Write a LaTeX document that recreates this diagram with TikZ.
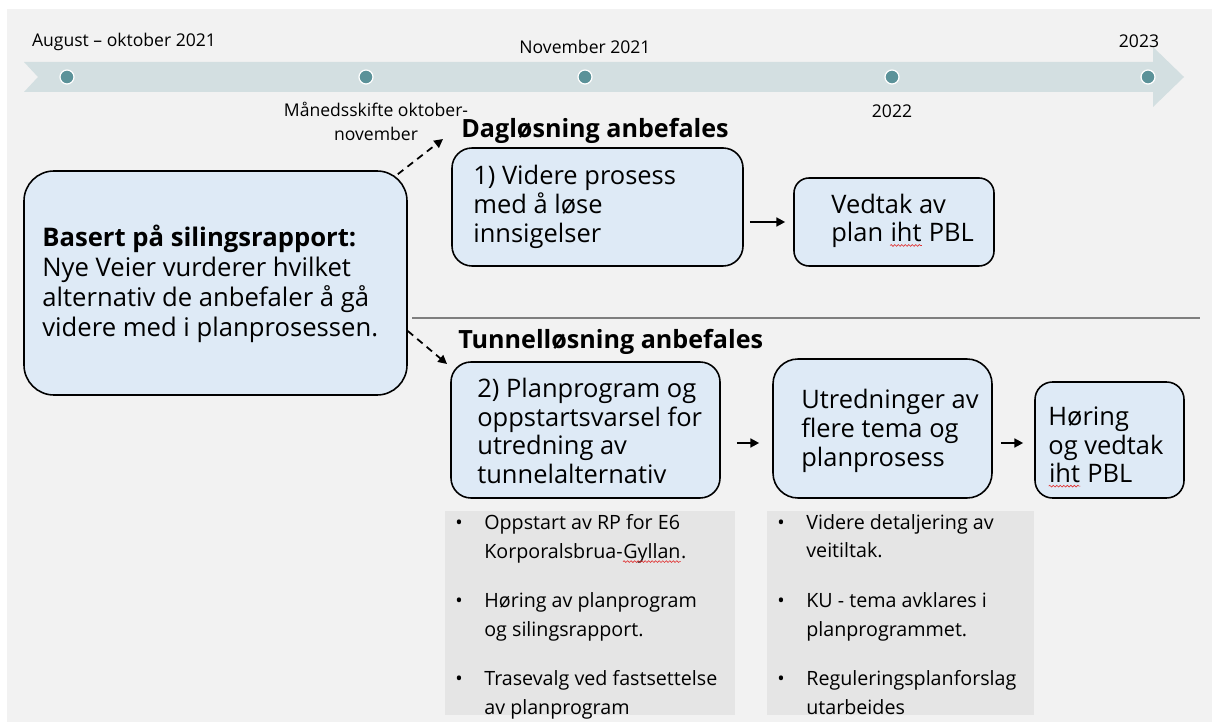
\documentclass[tikz,border=0pt]{standalone}
\usepackage{fontspec}
\setmainfont{Open Sans}
\usepackage{tikz}
\usetikzlibrary{arrows.meta,fit,positioning,decorations.pathmorphing}
\definecolor{bggray}{HTML}{F2F2F2}
\definecolor{bandgray}{HTML}{D3DFE1}
\definecolor{dotteal}{HTML}{5B9299}
\definecolor{boxblue}{HTML}{DEEAF6}
\definecolor{panelgray}{HTML}{E5E5E5}
\definecolor{linegray}{HTML}{7F7F7F}
\definecolor{spellred}{HTML}{E03030}
\tikzset{
    % boks for steg i prosessen
    stepbox/.style={
        draw=black,
        line width=0.9pt,
        fill=boxblue,
        rounded corners=0.4cm,
        inner sep=0pt
    },
    boxtext/.style={
        inner sep=0pt,
        anchor=west,
        align=left,
        font=\fontsize{14.5}{16.3}\selectfont
    },
    headtext/.style={
        inner sep=0pt,
        anchor=west,
        font=\fontsize{14.3}{16}\selectfont\bfseries
    },
    datelabel/.style={
        inner sep=0pt,
        font=\fontsize{10}{13.7}\selectfont
    },
    tldot/.style={
        circle,
        draw=white,
        line width=0.7pt,
        fill=dotteal,
        minimum size=0.28cm,
        inner sep=0pt
    },
    panel/.style={
        fill=panelgray,
        inner sep=0pt
    },
    bullettext/.style={
        inner sep=0pt,
        anchor=north west,
        align=left,
        font=\fontsize{11.2}{16.3}\selectfont
    },
    % piler
    steparrow/.style={
        line width=1.3pt,
        black,
        -{Triangle[length=5pt, width=5pt]}
    },
    dasharrow/.style={
        line width=1pt,
        black,
        dashed,
        dash pattern=on 4pt off 3pt,
        -{Triangle[length=5pt, width=5pt]}
    }
}
\newcommand{\bul}{\makebox[0.58cm][l]{•}}
\newcommand{\ind}{\hspace*{0.58cm}}
% rød bølgestrek under ord
\newcommand{\spell}[1]{\tikz[baseline=(w.base)]{\node[inner sep=0pt] (w) {#1};
  \draw[spellred, line width=0.35pt, decorate,
        decoration={snake, amplitude=0.5pt, segment length=2pt}]
        ([yshift=-2pt]w.base west) -- ([yshift=-2pt]w.base east);}}
\begin{document}
\begin{tikzpicture}[x=0.02cm, y=-0.02cm]
	\useasboundingbox (0,0) rectangle (1212,722);
	\fill[bggray] (7,9) rectangle (1212,722);
	
	% tidslinje
	\fill[bandgray] (24,62) -- (1153,62) -- (1153,47) -- (1184,77)
	  -- (1153,107) -- (1153,92) -- (24,92) -- (38,77) -- cycle;
	\foreach \x/\n in {67/d1, 366/d2, 585/d3, 892/d4, 1148/d5}
	  \node[tldot] (\n) at (\x,77) {};
	
	% datoer
	\node[datelabel] (l1) at (124,42) {August – oktober 2021};
	\node[datelabel, align=center] (l2) at (376,121) {Månedsskifte oktober-\\november};
	\node[datelabel] (l3) at (585,47) {November 2021};
	\node[datelabel] (l4) at (892,111) {2022};
	\node[datelabel] (l5) at (1139,41) {2023};
	
	% skillelinje
	\draw[linegray, line width=1.2pt] (412,318) -- (1200,318);
	
	% hovedboks
	\node[stepbox, rounded corners=0.6cm, fit={(24,171) (407,395)}] (mainbox) {};
	\node[boxtext, font=\fontsize{14.6}{17}\selectfont] (maintext) at (42,284)
	  {\textbf{Basert på silingsrapport:}\\Nye Veier vurderer hvilket\\
	   alternativ de anbefaler å gå\\videre med i planprosessen.};
	
	% dagløsning
	\node[headtext] (daghead) at (461,131) {Dagløsning anbefales};
	\node[stepbox, fit={(452,148) (743,266)}] (dagbox) {};
	\node[boxtext] (dagtext) at (473,207) {1) Videre prosess\\med å løse\\innsigelser};
	\node[stepbox, rounded corners=0.3cm, fit={(794,178) (994,266)}] (vedtak) {};
	\node[boxtext] (vedtaktext) at (831,221) {Vedtak av\\plan \spell{iht} PBL};
	
	% tunnelløsning
	\node[headtext] (tunhead) at (458,342) {Tunnelløsning anbefales};
	\node[stepbox, fit={(451,362) (720,498)}] (tunbox) {};
	\node[boxtext] (tuntext) at (477,431)
	  {2) Planprogram og\\oppstartsvarsel for\\utredning av\\tunnelalternativ};
	\node[stepbox, rounded corners=0.5cm, fit={(773,359) (992,498)}] (utred) {};
	\node[boxtext] (utredtext) at (801,431) {Utredninger av\\flere tema og\\planprosess};
	\node[stepbox, rounded corners=0.35cm, fit={(1035,382) (1184,498)}] (horing) {};
	\node[boxtext] (horingtext) at (1048,447) {Høring\\og vedtak\\\spell{iht} PBL};
	
	% stiplede piler
	\coordinate (dagtip) at (443,139);
	\coordinate (tuntip) at (447,364);
	\draw[dasharrow] ([shift={(-10,4)}]mainbox.north east) -- (dagtip);
	\draw[dasharrow] ([yshift=-0.96cm]mainbox.east) -- (tuntip);
	
	% heltrukne piler
	\draw[steparrow, shorten <=0.12cm, shorten >=0.16cm] (dagbox.east |- vedtak.west) -- (vedtak.west);
	\draw[steparrow] ([shift={(16,13)}]tunbox.east) coordinate (a1) -- ([xshift=-0.26cm]utred.west |- a1);
	\draw[steparrow] ([shift={(8,14.5)}]utred.east) coordinate (a2) -- ([xshift=-0.22cm]horing.west |- a2);
	
	% punktlister
	\node[panel, fit={(445,511) (735,715)}] (panelA) {};
	\node[bullettext] (listA) at (455,514)
	  {\bul Oppstart av RP for E6\\\ind Korporalsbrua-\spell{Gyllan}.\\[0.42cm]
	   \bul Høring av planprogram\\\ind og silingsrapport.\\[0.42cm]
	   \bul Trasevalg ved fastsettelse\\\ind av planprogram};
	\node[panel, fit={(767,511) (1034,715)}] (panelB) {};
	\node[bullettext] (listB) at (777,514)
	  {\bul Videre detaljering av\\\ind veitiltak.\\[0.42cm]
	   \bul KU - tema avklares i\\\ind planprogrammet.\\[0.42cm]
	   \bul Reguleringsplanforslag\\\ind utarbeides};
\end{tikzpicture}
\end{document}
